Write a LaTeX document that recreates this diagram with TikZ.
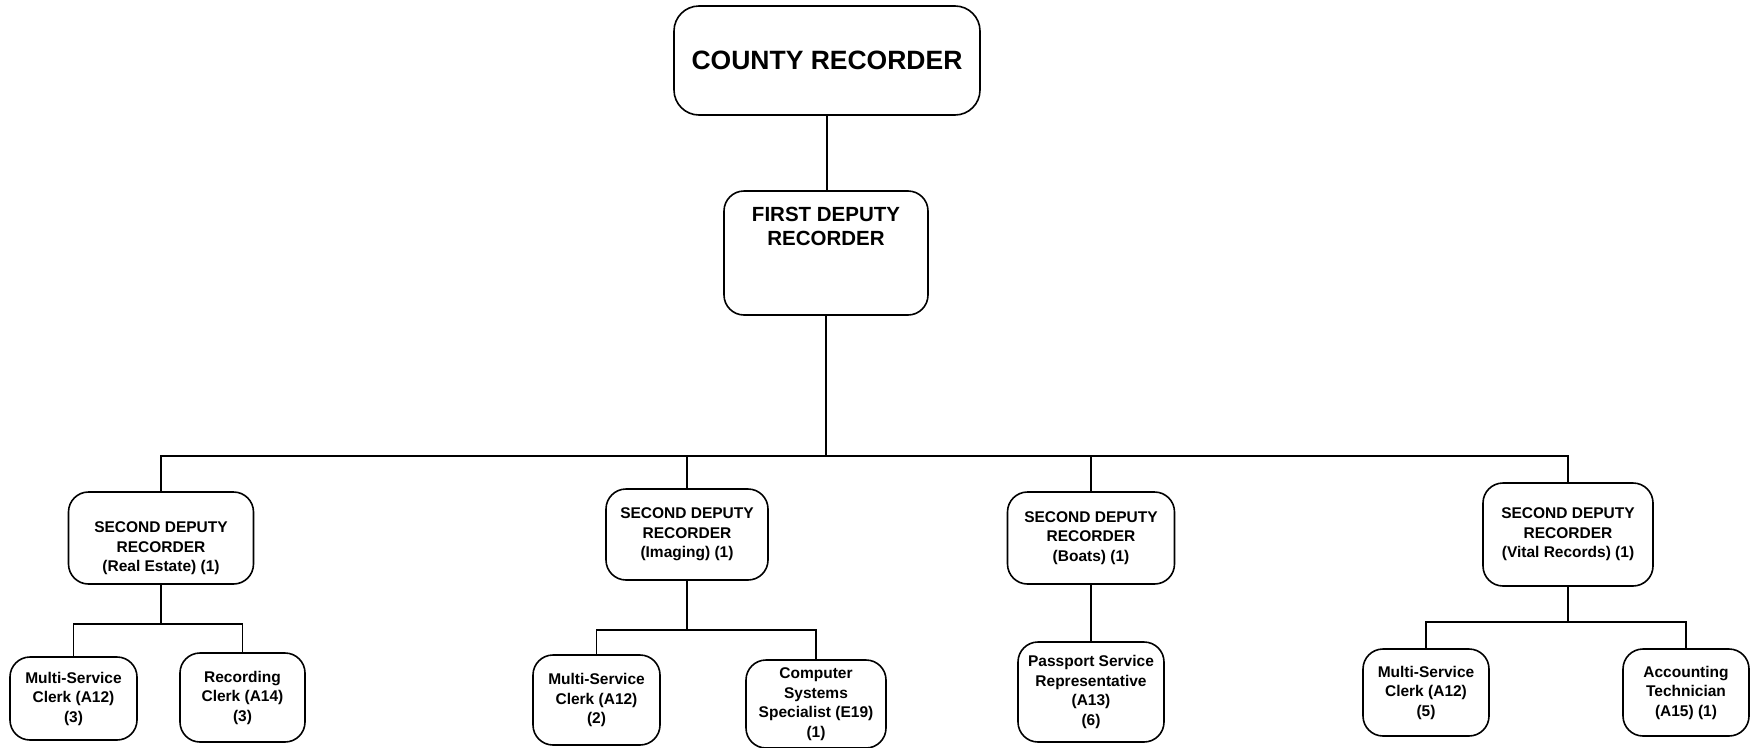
\documentclass[tikz,border=0pt]{standalone}
\usepackage{fontspec}
\setmainfont{Liberation Sans}
\begin{document}
\begin{tikzpicture}[x=1pt,y=-1pt,
  box/.style={draw, line width=1.6pt, rounded corners=20pt, inner sep=0pt, align=center,
              font=\bfseries\fontsize{15.5}{19.5}\selectfont},
  lbl/.style={inner sep=0pt, align=center, font=\bfseries\fontsize{15.5}{19.5}\selectfont},
  conn/.style={line width=1.6pt}]
\useasboundingbox (0,0) rectangle (1750,747);

% top levels
\node[box, rounded corners=25pt, minimum width=306pt, minimum height=109pt,
      font=\bfseries\fontsize{26.5}{30}\selectfont] (county) at (827,60.5) {COUNTY RECORDER};
\node[box, minimum width=204pt, minimum height=124pt] (first) at (826,253) {};
\node[lbl, font=\bfseries\fontsize{20.5}{24}\selectfont] (firstt) at (826,226) {FIRST DEPUTY\\RECORDER};

% second deputies
\node[box, minimum width=185pt, minimum height=92pt] (sd1) at (161,538) {};
\node[lbl] (sd1t) at (161,548.5) {SECOND DEPUTY\\RECORDER\\(Real Estate) (1)};
\node[box, minimum width=162pt, minimum height=91pt] (sd2) at (687,534.5) {SECOND DEPUTY\\RECORDER\\(Imaging) (1)};
\node[box, minimum width=167pt, minimum height=92pt] (sd3) at (1091,538) {SECOND DEPUTY\\RECORDER\\(Boats) (1)};
\node[box, minimum width=170pt, minimum height=103pt] (sd4) at (1568,534.5) {SECOND DEPUTY\\RECORDER\\(Vital Records) (1)};

% staff
\node[box, minimum width=127pt, minimum height=83pt] (msc1) at (73.5,698.5) {Multi-Service\\Clerk (A12)\\(3)};
\node[box, minimum width=125pt, minimum height=89pt] (rc) at (242.5,697.5) {Recording\\Clerk (A14)\\(3)};
\node[box, minimum width=127pt, minimum height=90pt] (msc2) at (596.5,700) {Multi-Service\\Clerk (A12)\\(2)};
\node[box, minimum width=140pt, minimum height=88pt] (css) at (816,704) {Computer\\Systems\\Specialist (E19)\\(1)};
\node[box, minimum width=146pt, minimum height=100pt] (psr) at (1091,692) {Passport Service\\Representative\\(A13)\\(6)};
\node[box, minimum width=126pt, minimum height=87pt] (msc4) at (1426,692.5) {Multi-Service\\Clerk (A12)\\(5)};
\node[box, minimum width=126pt, minimum height=87pt] (acct) at (1686,692.5) {Accounting\\Technician\\(A15) (1)};

% connectors
\draw[conn] (county.south) -- (county.south |- first.north);
\coordinate (bus) at (826,456);
\draw[conn] (first.south) -- (bus);
\draw[conn] (sd1.north) |- (bus);
\draw[conn] (sd2.north) |- (bus);
\draw[conn] (sd3.north) |- (bus);
\draw[conn] (sd4.north) |- (bus);

\draw[conn] (sd1.south) -- ++(0,39) coordinate (b1);
\draw[conn] (msc1.north) |- (b1);
\draw[conn] (rc.north) |- (b1);

\draw[conn] (sd2.south) -- ++(0,49) coordinate (b2);
\draw[conn] (msc2.north) |- (b2);
\draw[conn] (css.north) |- (b2);

\draw[conn] (sd3.south) -- (psr.north);

\draw[conn] (sd4.south) -- ++(0,35) coordinate (b4);
\draw[conn] (msc4.north) |- (b4);
\draw[conn] (acct.north) |- (b4);
\end{tikzpicture}
\end{document}
